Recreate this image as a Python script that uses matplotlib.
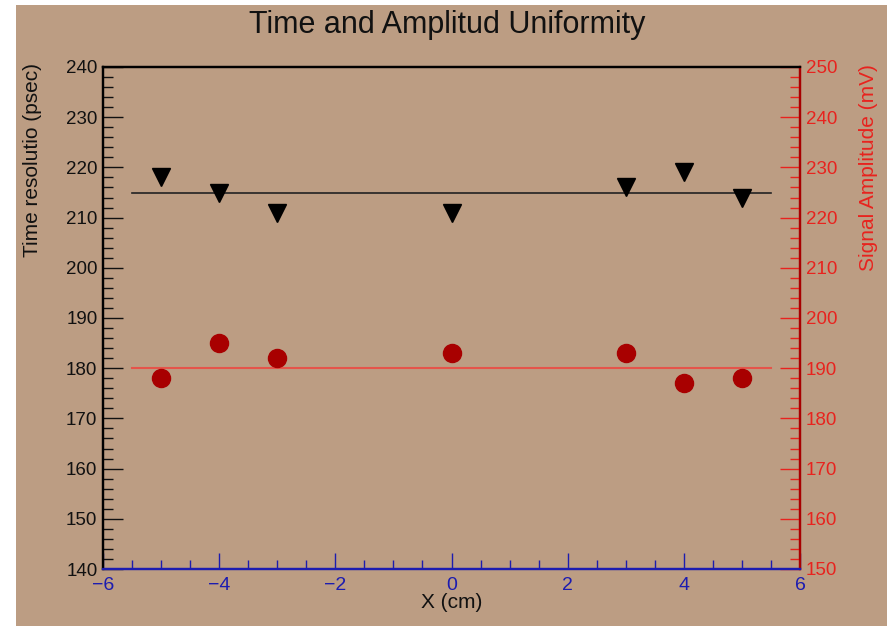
import matplotlib
matplotlib.use('Agg')
import matplotlib.pyplot as plt
from matplotlib.patches import Rectangle
from matplotlib.ticker import MultipleLocator

# data
x_pos = [-5, -4, -3, 0, 3, 4, 5]
time_res = [218, 215, 211, 211, 216, 219, 214]      # psec, left axis
amplitude = [188, 195, 192, 193, 193, 187, 188]     # mV, right axis
fit_range = [-5.5, 5.5]
time_fit = 215
amp_fit = 190

TAN = '#bc9d83'
BLUE = '#1c1cb0'
RED = '#e8231e'
DARKRED = '#a80000'

plt.rcParams['font.family'] = ['Liberation Sans', 'DejaVu Sans']

fig = plt.figure(figsize=(8.94, 6.26), dpi=100, facecolor='white')
fig.patches.append(Rectangle((16 / 894, 0), (887 - 16) / 894, 621 / 626,
                             transform=fig.transFigure, facecolor=TAN,
                             edgecolor='none', zorder=-10))

ax = fig.add_axes([103 / 894, 1 - 569 / 626, (800 - 103) / 894, (569 - 67) / 626])
ax.set_facecolor(TAN)
ax2 = ax.twinx()

# time resolution (left axis)
ax.plot(fit_range, [time_fit, time_fit], color='#222222', lw=1.2, zorder=2)
ax.plot(x_pos, time_res, linestyle='none', marker='v', ms=12.5, color='black', zorder=3)

# signal amplitude (right axis)
ax2.plot(fit_range, [amp_fit, amp_fit], color='#e5544a', lw=1.5, zorder=2)
ax2.plot(x_pos, amplitude, linestyle='none', marker='o', ms=13, color=DARKRED, zorder=3)

ax.set_xlim(-6, 6)
ax.set_ylim(140, 240)
ax2.set_ylim(150, 250)

ax.xaxis.set_major_locator(MultipleLocator(2))
ax.xaxis.set_minor_locator(MultipleLocator(0.5))
ax.yaxis.set_major_locator(MultipleLocator(10))
ax.yaxis.set_minor_locator(MultipleLocator(2))
ax2.yaxis.set_major_locator(MultipleLocator(10))
ax2.yaxis.set_minor_locator(MultipleLocator(2))

ax.tick_params(axis='y', which='both', direction='in', left=True, right=False,
               colors='#111111', labelsize=13.5, width=1.0, pad=4)
ax.tick_params(axis='y', which='major', length=14.5)
ax.tick_params(axis='y', which='minor', length=7)
ax.tick_params(axis='x', which='both', direction='in', bottom=True, top=False,
               color=BLUE, labelcolor=BLUE, labelsize=14, width=1.0, pad=6)
ax.tick_params(axis='x', which='major', length=11.5)
ax.tick_params(axis='x', which='minor', length=6.5)
ax2.tick_params(axis='y', which='both', direction='in', right=True, left=False,
                color=RED, labelcolor=RED, labelsize=13.5, width=1.0, pad=4)
ax2.tick_params(axis='y', which='major', length=14.5)
ax2.tick_params(axis='y', which='minor', length=7)

for a in (ax, ax2):
    a.spines['top'].set_color('black')
    a.spines['left'].set_color('black')
    a.spines['bottom'].set_color(BLUE)
    a.spines['right'].set_color(DARKRED)
    for s in a.spines.values():
        s.set_linewidth(1.6)

ax.set_xlabel('X (cm)', fontsize=15, color='#111111')
ax.xaxis.set_label_coords(0.5, -0.047)
ax.set_ylabel('Time resolutio (psec)', fontsize=15, color='#111111')
ax.yaxis.set_label_coords(-0.087, 0.814)
ax2.set_ylabel('Signal Amplitude (mV)', fontsize=15, color=RED)
ax2.yaxis.set_label_coords(1.085, 0.80)

fig.text(0.5, 1 - 25 / 626, 'Time and Amplitud Uniformity', ha='center', va='center',
         fontsize=22, color='#111111')

fig.savefig('out.png', dpi=100, facecolor=fig.get_facecolor())
